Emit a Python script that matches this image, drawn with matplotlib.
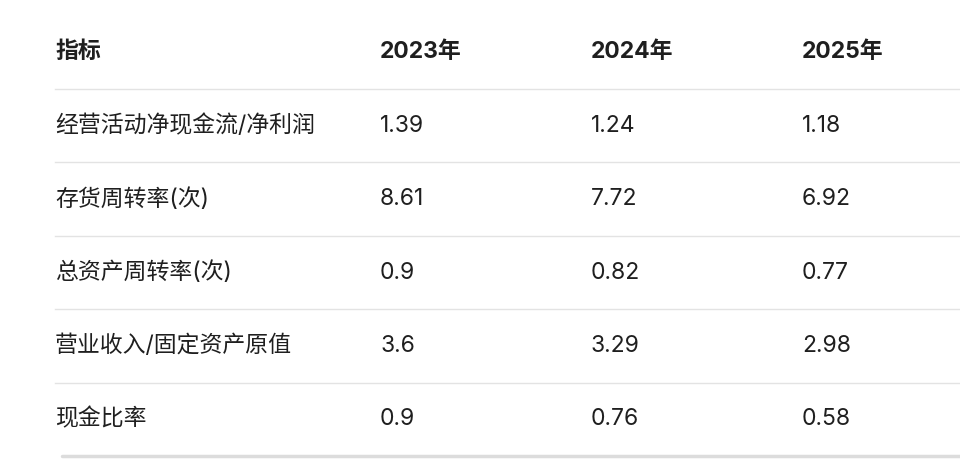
import matplotlib.pyplot as plt

plt.rcParams['font.family'] = ['Inter', 'Noto Sans CJK SC', 'DejaVu Sans']

headers = ["指标", "2023年", "2024年", "2025年"]
indicators = ["经营活动净现金流/净利润", "存货周转率(次)", "总资产周转率(次)",
              "营业收入/固定资产原值", "现金比率"]
v2023 = ["1.39", "8.61", "0.9", "3.6", "0.9"]
v2024 = ["1.24", "7.72", "0.82", "3.29", "0.76"]
v2025 = ["1.18", "6.92", "0.77", "2.98", "0.58"]

W, H = 960, 462
fig = plt.figure(figsize=(9.6, 4.62), dpi=100)
ax = fig.add_axes([0, 0, 1, 1])
ax.set_xlim(0, W)
ax.set_ylim(H, 0)
ax.axis('off')

col_x = [55, 380, 591, 802]
txt = '#1f1f1f'

for x, h in zip(col_x, headers):
    ax.text(x, 52, h, fontsize=16.5, fontweight='bold', color=txt, va='center')

line_y = [89, 162, 236, 309, 383]
for y in line_y:
    ax.plot([55, W], [y, y], color='#e3e3e3', lw=1)
ax.plot([62, W], [456, 456], color='#dcdcdc', lw=2.5, solid_capstyle='round')

rows = list(zip(indicators, v2023, v2024, v2025))
for i, row in enumerate(rows):
    y = 126 + i * 73.3
    for x, s in zip(col_x, row):
        ax.text(x, y, s, fontsize=16.5, color=txt, va='center')

fig.savefig('out.png', dpi=100)
